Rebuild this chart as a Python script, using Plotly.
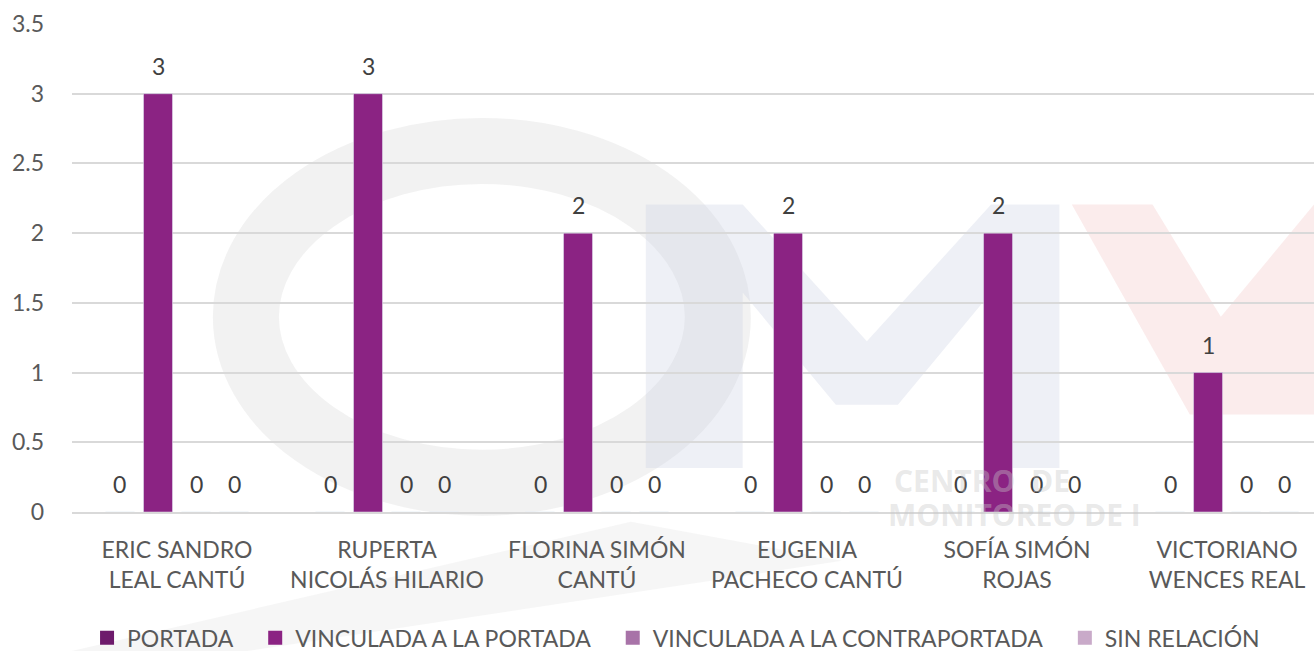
import plotly.graph_objects as go

categories = ["ERIC SANDRO<br>LEAL CANTÚ", "RUPERTA<br>NICOLÁS HILARIO", "FLORINA SIMÓN<br>CANTÚ",
              "EUGENIA<br>PACHECO CANTÚ", "SOFÍA SIMÓN<br>ROJAS", "VICTORIANO<br>WENCES REAL"]
series_names = ["PORTADA", "VINCULADA A LA PORTADA", "VINCULADA A LA CONTRAPORTADA", "SIN RELACIÓN"]
portada = [0, 0, 0, 0, 0, 0]
vinculada_portada = [3, 3, 2, 2, 2, 1]
vinculada_contra = [0, 0, 0, 0, 0, 0]
sin_relacion = [0, 0, 0, 0, 0, 0]
colors = ["#6E1B6C", "#8B2383", "#A873A8", "#C9AAC9"]
y_ticks = [0, 0.5, 1, 1.5, 2, 2.5, 3, 3.5]
y_tick_text = ["0", "0.5", "1", "1.5", "2", "2.5", "3", "3.5"]

FONT = "Lato, 'Open Sans', sans-serif"
FS = 23
BARGAP = 0.276
all_series = [portada, vinculada_portada, vinculada_contra, sin_relacion]

fig = go.Figure()
for name, vals, col in zip(series_names, all_series, colors):
    fig.add_trace(go.Bar(x=list(range(len(categories))), y=vals, name=name, marker_color=col,
                         legendgroup=name, showlegend=False))
# legend entries with larger square keys
for name, col in zip(series_names, colors):
    fig.add_trace(go.Scatter(x=[None], y=[None], mode="markers", name=name + "\u00a0" * 3,
                             legendgroup=name, marker=dict(symbol="square", size=14, color=col)))

# value labels, placed above each bar through the axis scales
slot = (1 - BARGAP) / len(all_series)
annotations = []
for i, vals in enumerate(all_series):
    for j, v in enumerate(vals):
        annotations.append(dict(
            x=j + (i - (len(all_series) - 1) / 2) * slot, y=v, xref="x", yref="y",
            text=str(v), showarrow=False, yanchor="middle", yshift=28,
            font=dict(size=FS, color="#404040", family=FONT)))

# faint watermark (background logo approximation)
shapes = [
    dict(type="path", xref="paper", yref="paper", layer="below",
         path="M -0.06 -0.32 L 0.45 -0.02 L 0.62 -0.1 L 0.05 -0.32 Z",
         fillcolor="rgba(200,200,200,0.16)", line=dict(width=0)),
    dict(type="circle", xref="paper", yref="paper", layer="below",
         x0=0.14, x1=0.52, y0=0.06, y1=0.74,
         line=dict(color="rgba(190,190,190,0.2)", width=66)),
    dict(type="path", xref="paper", yref="paper", layer="below",
         path="M 0.462 0.09 L 0.462 0.63 L 0.54 0.63 L 0.64 0.35 L 0.74 0.63 L 0.795 0.63 L 0.795 0.09 L 0.74 0.09 L 0.74 0.45 L 0.665 0.22 L 0.615 0.22 L 0.54 0.45 L 0.54 0.09 Z",
         fillcolor="rgba(200,205,225,0.3)", line=dict(width=0)),
    dict(type="path", xref="paper", yref="paper", layer="below",
         path="M 0.805 0.63 L 0.87 0.63 L 0.925 0.4 L 1.0 0.63 L 1.0 0.2 L 0.9 0.2 Z",
         fillcolor="rgba(240,180,180,0.26)", line=dict(width=0)),
]
annotations += [
    dict(text="<b>CENTRO  DE</b>", xref="paper", yref="paper", x=0.66, y=0.065, xanchor="left",
         yanchor="middle", showarrow=False, font=dict(size=30, color="rgba(200,200,200,0.4)", family="Open Sans")),
    dict(text="<b>MONITOREO DE I</b>", xref="paper", yref="paper", x=0.655, y=-0.005, xanchor="left",
         yanchor="middle", showarrow=False, font=dict(size=30, color="rgba(200,200,200,0.4)", family="Open Sans")),
]

fig.update_layout(
    width=1314, height=651,
    margin=dict(l=72, r=0, t=24, b=139, autoexpand=False),
    plot_bgcolor="white", paper_bgcolor="white",
    barmode="group", bargap=BARGAP, bargroupgap=0.237,
    font=dict(family=FONT, color="#595959", size=FS),
    shapes=shapes, annotations=annotations,
    legend=dict(orientation="h", x=0.4936, xanchor="center", y=-0.258, yanchor="middle",
                font=dict(size=FS, color="#595959", family=FONT), itemwidth=30,
                traceorder="normal", bgcolor="rgba(0,0,0,0)"),
    xaxis=dict(range=[-0.5, 5.414], tickvals=list(range(len(categories))), ticktext=categories,
               showgrid=False, showline=True, linecolor="#D9D9D9", linewidth=2, zeroline=False,
               ticks="", ticklabelstandoff=16, tickfont=dict(size=FS, color="#595959"), automargin=False),
    yaxis=dict(range=[0, 3.5], tickvals=y_ticks, ticktext=y_tick_text,
               showgrid=True, gridcolor="#D9D9D9", gridwidth=2, zeroline=False, showline=False,
               ticks="", ticklabelstandoff=27, tickfont=dict(size=FS, color="#595959"), automargin=False),
)
fig.write_html("out.html", config={"displayModeBar": False},
               post_script="document.body.style.margin='0';document.body.style.overflow='hidden';")
